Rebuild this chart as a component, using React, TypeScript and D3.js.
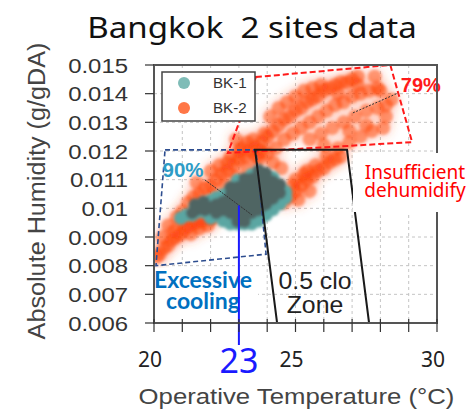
import React from 'react';
import * as d3 from 'd3';

// --- chart values ---
const xTickValues = [20, 25, 30];
const yTickValues = [0.006, 0.007, 0.008, 0.009, 0.01, 0.011, 0.012, 0.013, 0.014, 0.015];
const yTickLabels = ['0.006', '0.007', '0.008', '0.009', '0.01', '0.011', '0.012', '0.013', '0.014', '0.015'];

// BK-2 (orange) samples: [operative temp, absolute humidity]
const bk2: [number, number][] = [
  [20.1, 0.0083], [20.2, 0.0084], [20.35, 0.0086], [20.5, 0.0087], [20.65, 0.0089], [20.8, 0.009], [20.95, 0.0091],
  [21.1, 0.0093], [21.25, 0.0094], [21.4, 0.0095], [21.55, 0.0095], [21.7, 0.0096], [21.85, 0.0097],
  [22.0, 0.0096], [22.15, 0.0097], [21.3, 0.0091], [21.6, 0.0093], [21.9, 0.0094], [20.7, 0.0092],
  [21.0, 0.0095], [20.5, 0.0094], [20.3, 0.009],
  [20.8, 0.0097], [21.0, 0.0099], [21.2, 0.0102], [21.4, 0.0104], [21.6, 0.0105], [21.8, 0.0107],
  [22.0, 0.0108], [22.2, 0.011], [22.4, 0.0112], [22.6, 0.0113], [22.8, 0.0115], [23.0, 0.0117],
  [23.2, 0.0118], [23.4, 0.012], [23.6, 0.0121], [22.1, 0.0105], [22.5, 0.0108], [22.9, 0.0111],
  [23.3, 0.0114], [23.7, 0.0117], [22.3, 0.0115], [22.7, 0.0118], [23.1, 0.0121], [23.5, 0.0124],
  [23.9, 0.0126], [22.9, 0.0124], [22.0, 0.0113], [21.5, 0.0109], [23.4, 0.0108],
  [23.3, 0.0123], [23.6, 0.0118], [23.0, 0.012], [22.6, 0.0116], [23.8, 0.012],
  [23.8, 0.0123], [24.0, 0.0125], [24.2, 0.0127], [24.4, 0.0129], [24.6, 0.0131], [24.8, 0.0132],
  [25.0, 0.0134], [25.2, 0.0135], [25.4, 0.0137], [25.6, 0.0138], [25.8, 0.0139], [26.0, 0.0141],
  [26.2, 0.0142], [26.4, 0.0143], [26.6, 0.0144], [26.8, 0.0144], [27.0, 0.0145], [27.2, 0.0146],
  [24.0, 0.0119], [24.3, 0.0121], [24.6, 0.0124], [24.9, 0.0126], [25.2, 0.0128], [25.5, 0.013],
  [25.8, 0.0132], [26.1, 0.0134], [26.4, 0.0136], [26.7, 0.0137], [27.0, 0.0139], [27.3, 0.014],
  [27.6, 0.0141], [27.9, 0.0142],
  [24.1, 0.0132], [24.4, 0.0135], [24.7, 0.0137], [25.0, 0.0139], [25.3, 0.0141], [25.6, 0.0142],
  [25.9, 0.0143], [26.5, 0.014], [27.2, 0.0143],
  [25.5, 0.0124], [25.9, 0.0126], [26.3, 0.0128], [26.7, 0.013], [27.1, 0.0132], [27.5, 0.0134],
  [27.9, 0.0135], [28.2, 0.0136],
  [24.6, 0.0102], [24.8, 0.0104], [25.0, 0.0106], [25.2, 0.0108], [25.4, 0.011], [25.6, 0.0111],
  [25.8, 0.0113], [26.0, 0.0114], [26.2, 0.0116], [26.4, 0.0117], [26.6, 0.0118], [24.9, 0.0108],
  [25.3, 0.0112], [25.7, 0.0115], [26.1, 0.0118], [26.5, 0.0121], [26.9, 0.0123], [27.3, 0.0125],
  [27.7, 0.0127], [28.1, 0.0128], [25.1, 0.0103], [25.5, 0.0106], [25.0, 0.011], [25.4, 0.0113],
  [28.4, 0.0138], [28.2, 0.0132], [27.5, 0.0129], [26.9, 0.0127], [24.2, 0.0116], [24.5, 0.0114],
  [27.8, 0.0146], [28.0, 0.0141], [26.0, 0.0122],
];

// BK-1 (teal) samples
const bk1: [number, number][] = [
  [20.95, 0.0097], [21.15, 0.0098], [21.35, 0.0098], [21.5, 0.0099], [21.65, 0.01], [21.8, 0.0099],
  [21.45, 0.0101], [21.75, 0.0102],
  [22.0, 0.0097], [22.0, 0.01], [22.0, 0.0103], [22.2, 0.0098], [22.2, 0.0101], [22.2, 0.0104],
  [22.45, 0.0096], [22.45, 0.0099], [22.45, 0.0102], [22.45, 0.0105], [22.7, 0.0095], [22.7, 0.0098],
  [22.7, 0.0101], [22.7, 0.0104], [22.7, 0.0107],
  [22.95, 0.0095], [22.95, 0.0098], [22.95, 0.0101], [22.95, 0.0104], [22.95, 0.0107], [22.95, 0.011],
  [23.2, 0.0095], [23.2, 0.0098], [23.2, 0.0101], [23.2, 0.0104], [23.2, 0.0107], [23.2, 0.011],
  [23.45, 0.0095], [23.45, 0.0098], [23.45, 0.0101], [23.45, 0.0104], [23.45, 0.0107], [23.45, 0.011],
  [23.45, 0.0112], [23.7, 0.0096], [23.7, 0.0099], [23.7, 0.0102], [23.7, 0.0105], [23.7, 0.0108],
  [23.7, 0.0111], [23.7, 0.0113],
  [23.95, 0.0098], [23.95, 0.0101], [23.95, 0.0104], [23.95, 0.0107], [23.95, 0.011], [23.95, 0.0112],
  [24.2, 0.01], [24.2, 0.0103], [24.2, 0.0106], [24.2, 0.0109], [24.2, 0.0111],
  [24.45, 0.0102], [24.45, 0.0105], [24.45, 0.0108], [24.65, 0.0104], [24.65, 0.0106],
];

// outlined regions
const zone79: [number, number][] = [[23.6, 0.01458], [28.35, 0.015], [29.12, 0.01231], [22.61, 0.01193]];
const zone90: [number, number][] = [[20.39, 0.01204], [23.6, 0.01204], [23.96, 0.0084], [20.07, 0.008]];
const cloZone: [number, number][] = [[24.35, 0.006], [23.57, 0.01204], [26.82, 0.01204], [27.6, 0.006]];
const leader79: [number, number][] = [[27.03, 0.01333], [28.62, 0.01402]];
const leader90: [number, number][] = [[21.8, 0.01099], [23.46, 0.00977]];
const setPoint = 23;

const W = 475;
const H = 412;
const margin = { top: 65, right: 38, bottom: 89, left: 154 };
const iw = W - margin.left - margin.right;
const ih = H - margin.top - margin.bottom;

const x = d3.scaleLinear().domain([20, 30]).range([0, iw]);
const y = d3.scaleLinear().domain([0.006, 0.015]).range([ih, 0]);
const line = d3.line<[number, number]>().x(d => x(d[0])).y(d => y(d[1]));

const arial = 'Liberation Sans, Arial, sans-serif';
const noto = '"Noto Sans", sans-serif';

export default function App() {
  // darker core where BK-1 points pile up
  const bk1px = bk1.map(d => [x(d[0]), y(d[1])]);
  const dense = bk1px.map(p => bk1px.filter(q => Math.hypot(p[0] - q[0], p[1] - q[1]) < 12).length);

  return (
    <svg width={W} height={H} style={{ position: 'absolute', left: 0, top: 0, background: '#fff' }}>
      <defs>
        <clipPath id="plot"><rect width={iw} height={ih} /></clipPath>
        <filter id="halo" x="-10%" y="-10%" width="120%" height="120%"><feGaussianBlur stdDeviation="3.5" /></filter>
        <filter id="soft" x="-10%" y="-10%" width="120%" height="120%"><feGaussianBlur stdDeviation="1.6" /></filter>
        <filter id="soft2"><feGaussianBlur stdDeviation="1.4" /></filter>
      </defs>

      <text transform={`translate(252,38) scale(1.14,1)`} textAnchor="middle" fontFamily={noto} fontSize={29} fill="#111">
        Bangkok&#160;&#160;2 sites data
      </text>

      <g transform={`translate(${margin.left},${margin.top})`}>
        {/* grid */}
        {d3.range(21, 30).map(v => (
          <line key={'gx' + v} x1={x(v)} x2={x(v)} y1={0} y2={ih} stroke="#c4c4c4" strokeDasharray="3,3" />
        ))}
        {yTickValues.slice(1, -1).map(v => (
          <line key={'gy' + v} x1={0} x2={iw} y1={y(v)} y2={y(v)} stroke="#c4c4c4" strokeDasharray="3,3" />
        ))}

        <g clipPath="url(#plot)">
          <g filter="url(#halo)">
            {bk2.map((d, i) => (
              <circle key={'h' + i} cx={x(d[0])} cy={y(d[1])} r={11} fill="#ff5a2a" opacity={0.12} />
            ))}
          </g>
          <g filter="url(#soft)">
            {bk2.map((d, i) => (
              <circle key={'o' + i} cx={x(d[0])} cy={y(d[1])} r={7} fill="#ff4208" opacity={0.5} />
            ))}
          </g>
          <g filter="url(#soft2)">
            {bk1px.map((p, i) => (
              <circle key={'t' + i} cx={p[0]} cy={p[1] + 1} r={6.8} fill="#5aa6a2" />
            ))}
            {bk1px.map((p, i) => dense[i] >= 6 ? (
              <circle key={'c' + i} cx={p[0]} cy={p[1] - 1} r={6.2} fill="#4f6563" />
            ) : null)}
          </g>
        </g>

        {/* regions */}
        <path d={line(zone79) + 'Z'} fill="none" stroke="#ff1a1a" strokeWidth={2} strokeDasharray="6,3" />
        <path d={line(zone90) + 'Z'} fill="none" stroke="#2d4d8f" strokeWidth={1.6} strokeDasharray="5,3" />
        <path d={line(cloZone) ?? ''} fill="none" stroke="#1a1a1a" strokeWidth={2} />
        <path d={line(leader79) ?? ''} fill="none" stroke="#333" strokeWidth={1} strokeDasharray="2,1.5" />
        <path d={line(leader90) ?? ''} fill="none" stroke="#333" strokeWidth={1} strokeDasharray="2,1" />

        <text transform={`translate(${x(28.72)},${y(0.01406)})`} fontFamily={arial} fontWeight="bold" fontSize={20} fill="#ff1a1a">79%</text>
        <text transform={`translate(${x(20.3)},${y(0.01109)})`} fontFamily={arial} fontWeight="bold" fontSize={20.5} fill="#2e9cc6">90%</text>

        {/* Excessive cooling */}
        <rect x={-4} y={203} width={108} height={55} fill="#fff" />
        <text fontFamily="Lato, sans-serif" fontWeight="bold" fontSize={23} fill="#0070c0" textAnchor="middle">
          <tspan x={49} y={223}>Excessive</tspan>
          <tspan x={49} y={244}>cooling</tspan>
        </text>

        {/* 0.5 clo Zone */}
        <text fontFamily={arial} fontSize={23} fill="#222" textAnchor="middle" transform="translate(161,0) scale(1.08,1)">
          <tspan x={0} y={224}>0.5 clo</tspan>
          <tspan x={0} y={248}>Zone</tspan>
        </text>

        {/* set point line */}
        <line x1={x(setPoint)} x2={x(setPoint)} y1={y(0.0101)} y2={ih + 22} stroke="#1a1aff" strokeWidth={2} />

        {/* legend */}
        <rect x={8} y={7} width={93} height={49} fill="#fff" stroke="#444" strokeWidth={1.5} />
        <circle cx={30} cy={18} r={6} fill="#7fbcb7" />
        <circle cx={30} cy={43} r={6} fill="#ff7747" />
        <text transform="translate(59,23) scale(1.08,1)" fontFamily={arial} fontSize={14} fill="#333">BK-1</text>
        <text transform="translate(59,48) scale(1.08,1)" fontFamily={arial} fontSize={14} fill="#333">BK-2</text>

        {/* frame */}
        <rect width={iw} height={ih} fill="none" stroke="#555" strokeWidth={2} />

        {/* Insufficient dehumidify */}
        <rect x={199} y={88} width={125} height={59} fill="#fff" />
        <text fontFamily={noto} fontSize={19} fill="#ff0000" textAnchor="middle">
          <tspan x={261} y={114}>Insufficient</tspan>
          <tspan x={261} y={132}>dehumidify</tspan>
        </text>

        {/* axes ticks */}
        {yTickValues.map((v, i) => (
          <g key={'yt' + v} transform={`translate(0,${y(v)})`}>
            <line x1={-9} x2={0} stroke="#333" strokeWidth={1.2} />
            <text transform="translate(-26,0) scale(1.14,1)" dy="0.36em" textAnchor="end" fontFamily={arial} fontSize={21} fill="#333">
              {yTickLabels[i]}
            </text>
          </g>
        ))}
        {d3.range(20, 31).map(v => (
          <line key={'xt' + v} x1={x(v)} x2={x(v)} y1={ih - 4} y2={ih + 9} stroke="#333" strokeWidth={1.2} />
        ))}
        {xTickValues.map(v => (
          <text key={'xl' + v} x={x(v) - 4} y={ih + 44} textAnchor="middle" fontFamily={noto} fontSize={21} fill="#222">{v}</text>
        ))}
        <text x={x(setPoint)} y={ih + 50} textAnchor="middle" fontFamily={noto} fontSize={34} fill="#1a1aff">{setPoint}</text>

        <text transform={`translate(${iw / 2 + 1},${ih + 81}) scale(1.17,1)`} textAnchor="middle" fontFamily={arial} fontSize={22} fill="#444">
          Operative Temperature (°C)
        </text>
      </g>

      <text transform="translate(45,191) rotate(-90) scale(1.05,1)" textAnchor="middle" fontFamily={arial} fontSize={24} fill="#444">
        Absolute Humidity (g/gDA)
      </text>
    </svg>
  );
}
